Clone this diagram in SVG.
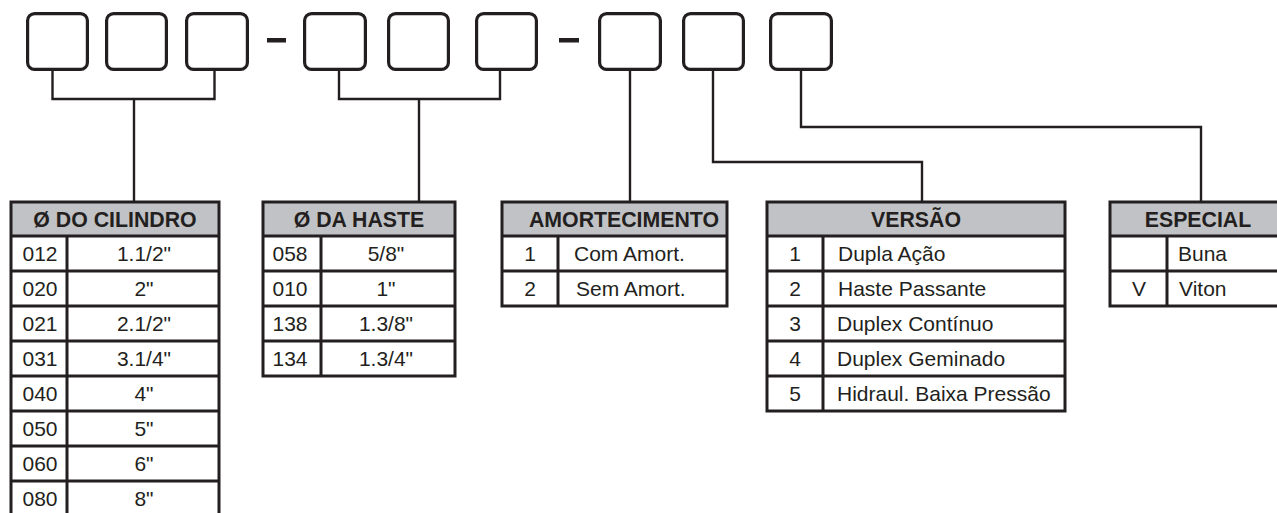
<svg xmlns="http://www.w3.org/2000/svg" width="1277" height="513" viewBox="0 0 1277 513">
<style>
.box{fill:#fff;stroke:#231f20;stroke-width:3.2}
.dash{fill:#231f20}
.con{fill:none;stroke:#231f20;stroke-width:2.4}
.hd{fill:#c1c2c5}
.ln{stroke:#231f20;stroke-width:3;fill:none}
.t{font-family:"Liberation Sans",Arial,sans-serif;font-size:21px;fill:#231f20}
.h{font-family:"Liberation Sans",Arial,sans-serif;font-size:21.3px;font-weight:bold;fill:#231f20;text-anchor:middle}
.c{text-anchor:middle}
</style>
<g id="code">
<rect class="box" x="27.6" y="13.6" width="59.8" height="55.8" rx="7"/>
<rect class="box" x="106.6" y="13.6" width="59.8" height="55.8" rx="7"/>
<rect class="box" x="186.6" y="13.6" width="60.8" height="55.8" rx="7"/>
<rect class="dash" x="267" y="38" width="19" height="4.5"/>
<rect class="box" x="304.6" y="13.6" width="60.8" height="55.8" rx="7"/>
<rect class="box" x="388.6" y="13.6" width="59.8" height="55.8" rx="7"/>
<rect class="box" x="476.6" y="13.6" width="59.8" height="55.8" rx="7"/>
<rect class="dash" x="559" y="38" width="20" height="4.5"/>
<rect class="box" x="599.6" y="13.6" width="60.8" height="55.8" rx="7"/>
<rect class="box" x="683.6" y="13.6" width="59.8" height="55.8" rx="7"/>
<rect class="box" x="770.6" y="13.6" width="60.8" height="55.8" rx="7"/>
</g>
<g id="connectors">
<path class="con" d="M52.5 71V99H214.5V71M134 99V202"/>
<path class="con" d="M339 71V99H500V71M419 99V202"/>
<path class="con" d="M630 71V202"/>
<path class="con" d="M713 71V162H922V202"/>
<path class="con" d="M801 71V127H1201V202"/>
</g>
<g id="cilindro">
<rect class="hd" x="11" y="202" width="208" height="34"/>
<path class="ln" d="M11 513V202H219V513M11 236H219M11 271H219M11 306H219M11 341H219M11 376H219M11 411H219M11 446H219M11 481H219M67 236V513"/>
<text class="h" x="115" y="227">Ø DO CILINDRO</text>
<g class="t c">
<text x="40" y="261">012</text><text x="144" y="261">1.1/2"</text>
<text x="40" y="296">020</text><text x="144" y="296">2"</text>
<text x="40" y="331">021</text><text x="144" y="331">2.1/2"</text>
<text x="40" y="366">031</text><text x="144" y="366">3.1/4"</text>
<text x="40" y="401">040</text><text x="144" y="401">4"</text>
<text x="40" y="436">050</text><text x="144" y="436">5"</text>
<text x="40" y="471">060</text><text x="144" y="471">6"</text>
<text x="40" y="506">080</text><text x="144" y="506">8"</text>
</g>
</g>
<g id="haste">
<rect class="hd" x="263" y="202" width="192" height="34"/>
<path class="ln" d="M263 202H455V376H263ZM263 236H455M263 271H455M263 306H455M263 341H455M321 236V376"/>
<text class="h" x="359" y="227">Ø DA HASTE</text>
<g class="t c">
<text x="290" y="261">058</text><text x="386" y="261">5/8"</text>
<text x="290" y="296">010</text><text x="386" y="296">1"</text>
<text x="290" y="331">138</text><text x="386" y="331">1.3/8"</text>
<text x="290" y="366">134</text><text x="386" y="366">1.3/4"</text>
</g>
</g>
<g id="amortecimento">
<rect class="hd" x="502" y="202" width="225" height="34"/>
<path class="ln" d="M502 202H727V306H502ZM502 236H727M502 271H727M558 236V306"/>
<text class="h" x="624" y="227">AMORTECIMENTO</text>
<text class="t c" x="530" y="261">1</text><text class="t" x="574" y="261">Com Amort.</text>
<text class="t c" x="530" y="296">2</text><text class="t" x="576" y="296">Sem Amort.</text>
</g>
<g id="versao">
<rect class="hd" x="767" y="202" width="298" height="34"/>
<path class="ln" d="M767 202H1065V411H767ZM767 236H1065M767 271H1065M767 306H1065M767 341H1065M767 376H1065M823 236V411"/>
<text class="h" x="916" y="227">VERSÃO</text>
<text class="t c" x="795" y="261">1</text><text class="t" x="838" y="261">Dupla Ação</text>
<text class="t c" x="795" y="296">2</text><text class="t" x="838" y="296">Haste Passante</text>
<text class="t c" x="795" y="331">3</text><text class="t" x="837" y="331">Duplex Contínuo</text>
<text class="t c" x="795" y="366">4</text><text class="t" x="837" y="366">Duplex Geminado</text>
<text class="t c" x="795" y="401">5</text><text class="t" x="837" y="401">Hidraul. Baixa Pressão</text>
</g>
<g id="especial">
<rect class="hd" x="1110" y="202" width="180" height="34"/>
<path class="ln" d="M1290 202H1110V306H1290M1110 236H1290M1110 271H1290M1167 236V306"/>
<text class="h" x="1198" y="227">ESPECIAL</text>
<text class="t" x="1178" y="261">Buna</text>
<text class="t c" x="1139" y="296">V</text><text class="t" x="1179" y="296">Viton</text>
</g>
</svg>
